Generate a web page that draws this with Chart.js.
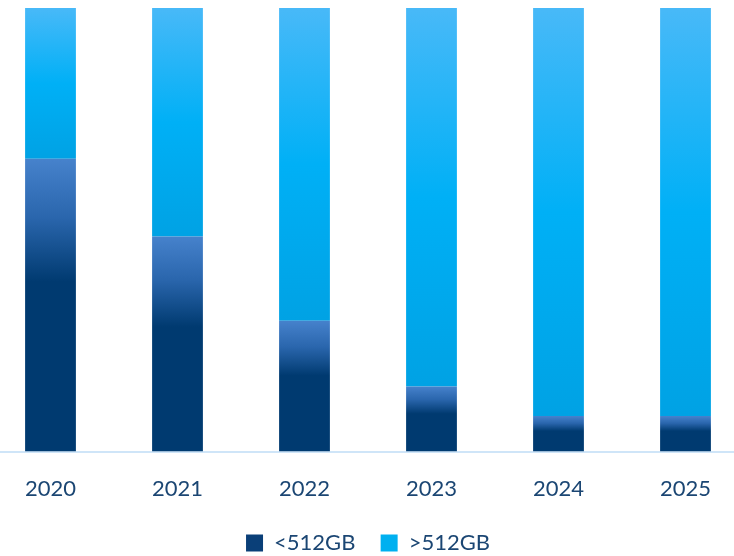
<!DOCTYPE html>
<html>
<head>
<meta charset="utf-8">
<script src="https://cdn.jsdelivr.net/npm/chart.js@4.4.1/dist/chart.umd.min.js"></script>
<style>
  html, body { margin: 0; padding: 0; background: #fff; overflow: hidden; }
  #wrap { position: absolute; left: -13px; top: 0; width: 762px; height: 564px; }
</style>
</head>
<body>
<div id="wrap"><canvas id="grafico"></canvas></div>
<script>
const anos = ["2020", "2021", "2022", "2023", "2024", "2025"];
const menor512 = [66, 48.5, 29.5, 14.7, 8, 8];
const maior512 = [34, 51.5, 70.5, 85.3, 92, 92];

const corTexto = "#1b4673";

function faixa(ctx, i) {
  const y = ctx.chart.scales.y;
  const base = i === 0 ? 0 : menor512[ctx.dataIndex];
  const topo = i === 0 ? menor512[ctx.dataIndex] : 100;
  return [y.getPixelForValue(topo), y.getPixelForValue(base)];
}

function gradienteEscuro(ctx) {
  const chart = ctx.chart;
  if (!chart.chartArea || ctx.dataIndex === undefined) return "#003a70";
  const [t, b] = faixa(ctx, 0);
  const g = chart.ctx.createLinearGradient(0, t, 0, b);
  g.addColorStop(0, "#4682cc");
  g.addColorStop(0.2, "#2a66ad");
  g.addColorStop(0.42, "#003a70");
  g.addColorStop(1, "#003a70");
  return g;
}

function gradienteClaro(ctx) {
  const chart = ctx.chart;
  if (!chart.chartArea || ctx.dataIndex === undefined) return "#00b0f0";
  const [t, b] = faixa(ctx, 1);
  const g = chart.ctx.createLinearGradient(0, t, 0, b);
  g.addColorStop(0, "#48b9f8");
  g.addColorStop(0.5, "#00b0f6");
  g.addColorStop(1, "#00a2e4");
  return g;
}

new Chart(document.getElementById("grafico"), {
  type: "bar",
  data: {
    labels: anos,
    datasets: [
      { label: "<512GB", data: menor512, backgroundColor: gradienteEscuro, legendCor: "#0a3f78" },
      { label: ">512GB", data: maior512, backgroundColor: gradienteClaro, legendCor: "#00b0f0" }
    ]
  },
  options: {
    responsive: true,
    maintainAspectRatio: false,
    animation: false,
    datasets: { bar: { categoryPercentage: 1, barPercentage: 0.4 } },
    layout: { padding: { top: 8, bottom: 0 } },
    plugins: {
      tooltip: { enabled: false },
      legend: {
        position: "bottom",
        labels: {
          font: { family: "Lato", size: 22 },
          color: corTexto,
          boxWidth: 17,
          boxHeight: 17,
          padding: 14,
          // espaço extra só depois do primeiro item
          generateLabels: (chart) => chart.data.datasets.map((ds, i) => ({
            text: i === 0 ? ds.label + "  " : ds.label,
            fillStyle: ds.legendCor,
            strokeStyle: ds.legendCor,
            lineWidth: 0,
            fontColor: corTexto,
            datasetIndex: i
          }))
        }
      }
    },
    scales: {
      x: {
        stacked: true,
        grid: { display: false },
        border: { color: "#cfe5f8", width: 2 },
        ticks: { font: { family: "Lato", size: 22 }, color: corTexto, padding: 16 }
      },
      y: {
        stacked: true,
        display: false,
        min: 0,
        max: 100
      }
    }
  }
});
</script>
</body>
</html>
